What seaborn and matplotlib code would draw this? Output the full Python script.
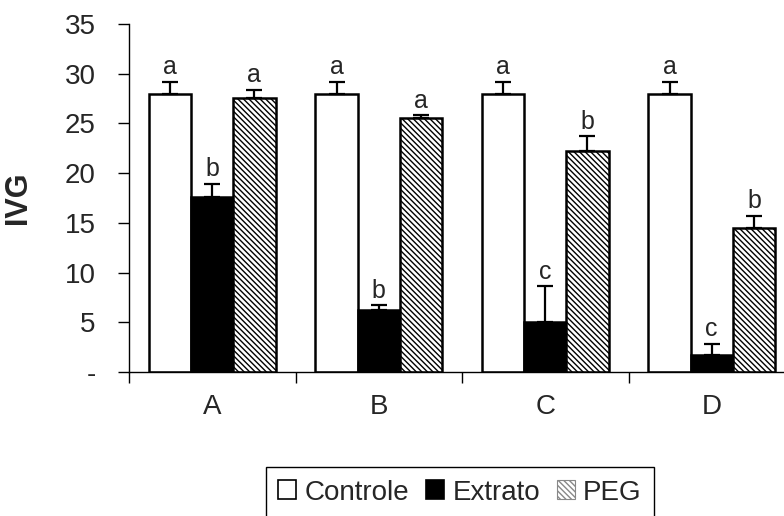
import matplotlib
matplotlib.use("Agg")
import matplotlib.pyplot as plt
import seaborn as sns
import pandas as pd
from matplotlib.patches import Patch

categories = ["A", "B", "C", "D"]
series = ["Controle", "Extrato", "PEG"]
controle = [28.0, 28.0, 28.0, 28.0]
extrato = [17.6, 6.2, 5.0, 1.7]
peg = [27.6, 25.5, 22.2, 14.5]
err_controle = [1.2, 1.2, 1.2, 1.2]
err_extrato = [1.3, 0.5, 3.6, 1.1]
err_peg = [0.8, 0.3, 1.5, 1.2]
let_controle = ["a", "a", "a", "a"]
let_extrato = ["b", "b", "c", "c"]
let_peg = ["a", "a", "b", "b"]
yticks = [0, 5, 10, 15, 20, 25, 30, 35]
ytick_labels = ["-", "5", "10", "15", "20", "25", "30", "35"]

values = {"Controle": controle, "Extrato": extrato, "PEG": peg}
errors = {"Controle": err_controle, "Extrato": err_extrato, "PEG": err_peg}
letters = {"Controle": let_controle, "Extrato": let_extrato, "PEG": let_peg}

rows = []
for s in series:
    for c, v in zip(categories, values[s]):
        rows.append({"cat": c, "serie": s, "val": v})
df = pd.DataFrame(rows)

sns.set_style("white")
plt.rcParams["font.family"] = ["Liberation Sans", "DejaVu Sans"]
plt.rcParams["hatch.linewidth"] = 1.0
plt.rcParams["hatch.color"] = "#444444"

HATCH = "\\" * 6

fig = plt.figure(figsize=(7.84, 5.16), dpi=100)
ax = fig.add_axes([129 / 784, 1 - 372 / 516, 666 / 784, 348 / 516])

sns.barplot(data=df, x="cat", y="val", hue="serie", order=categories,
            hue_order=series, width=0.76, gap=0, errorbar=None,
            palette={"Controle": "white", "Extrato": "black", "PEG": "white"},
            edgecolor="black", linewidth=1.8, saturation=1, ax=ax, legend=False)

for cont, s in zip(ax.containers, series):
    for i, bar in enumerate(cont.patches):
        if s == "PEG":
            bar.set_hatch(HATCH)
        x = bar.get_x() + bar.get_width() / 2
        h = bar.get_height()
        e = errors[s][i]
        ax.errorbar([x], [h], yerr=[[0], [e]], fmt="none", ecolor="black",
                    elinewidth=1.6, capsize=6, capthick=1.6, zorder=3)
        ax.annotate(letters[s][i], (x, h + e), xytext=(0, 2),
                    textcoords="offset points", ha="center", va="bottom",
                    fontsize=18)

ax.set_xlim(-0.5, 3.5)
ax.set_ylim(0, 35)
ax.set_yticks(yticks)
ax.set_yticklabels(ytick_labels, fontsize=20)
ax.set_xticks([-0.5, 0.5, 1.5, 2.5, 3.5])
ax.set_xticklabels([])
ax.set_xticks([0, 1, 2, 3], minor=True)
ax.set_xticklabels(categories, minor=True, fontsize=20)
ax.tick_params(axis="x", which="minor", length=0, pad=16)
ax.tick_params(axis="x", which="major", direction="out", length=8, width=1, color="black", bottom=True)
ax.tick_params(axis="y", direction="out", length=8, width=1, color="black", left=True, pad=16)
ax.set_xlabel("")
ax.set_ylabel("IVG", fontsize=22, fontweight="bold")
ax.yaxis.set_label_coords((33 - 129) / 666, 0.5)

sns.despine(ax=ax, top=True, right=True)
for sp in ["left", "bottom"]:
    ax.spines[sp].set_color("black")
    ax.spines[sp].set_linewidth(1)

handles = [Patch(facecolor="white", edgecolor="black", linewidth=1.2),
           Patch(facecolor="black", edgecolor="black", linewidth=1.2),
           Patch(facecolor="white", edgecolor="#888888", linewidth=0.8, hatch=HATCH)]
leg = fig.legend(handles, series, loc="upper center", ncol=3,
                 bbox_to_anchor=(460 / 784, 1 - 467 / 516), fontsize=20,
                 frameon=True, fancybox=False, framealpha=1, edgecolor="black",
                 handlelength=0.65, handleheight=0.65, handletextpad=0.3,
                 columnspacing=0.6, borderpad=0.45, borderaxespad=0)
leg.get_frame().set_linewidth(1.0)

fig.savefig("out.png", dpi=100)
